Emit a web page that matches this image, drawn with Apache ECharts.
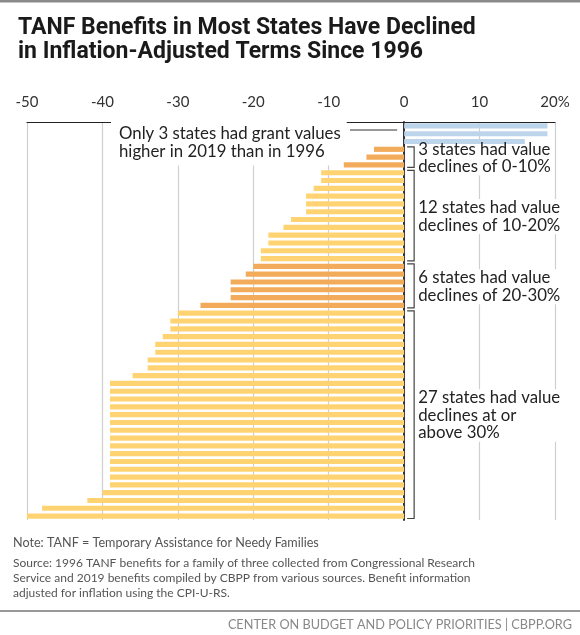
<!DOCTYPE html>
<html>
<head>
<meta charset="utf-8">
<script src="https://cdn.jsdelivr.net/npm/echarts@6/dist/echarts.min.js"></script>
<style>
html,body{margin:0;padding:0;background:#fff;}
#chart{width:580px;height:635px;}
</style>
</head>
<body>
<div id="chart"></div>
<script>
// Change in inflation-adjusted TANF benefit, 1996 to 2019 (%), one bar per state, sorted
const values = [19, 19, 16,
  -4, -5, -8,
  -11, -11, -12, -13, -13, -13, -15, -16, -18, -18, -19, -19,
  -20, -21, -23, -23, -23, -27,
  -30, -31, -31, -32, -33, -33, -34, -34, -36,
  -39, -39, -39, -39, -39, -39, -39, -39, -39, -39, -39, -39, -39, -39,
  -40, -42, -48, -51];
// group sizes in order of bars
const groupNames = ['increase', 'decl0to10', 'decl10to20', 'decl20to30', 'decl30plus'];
const groupCounts = [3, 3, 12, 6, 27];
const groupColors = ['#bdd5ea', '#f1ab5b', '#ffd372', '#f1ab5b', '#ffd372'];
const groupNotes = [
  null,
  '3 states had value\ndeclines of 0-10%',
  '12 states had value\ndeclines of 10-20%',
  '6 states had value\ndeclines of 20-30%',
  '27 states had value\ndeclines at or\nabove 30%'
];
const xTicks = [-50, -40, -30, -20, -10, 0, 10, 20];
const categories = values.map((v, i) => 'State ' + (i + 1));

const FONT = 'Lato, "Open Sans", sans-serif';
const TITLE_FONT = 'Roboto, "Open Sans", sans-serif';
const ANN_FONT = '16.8px ' + FONT;

// build per-bar colours from group arrays
const barColors = [];
groupCounts.forEach((n, g) => { for (let k = 0; k < n; k++) barColors.push(groupColors[g]); });

const chart = echarts.init(document.getElementById('chart'), null, {renderer: 'canvas'});

const option = {
  animation: false,
  backgroundColor: '#fff',
  title: {
    text: 'TANF Benefits in Most States Have Declined\nin Inflation-Adjusted Terms Since 1996',
    left: 13, top: 11,
    textStyle: {fontFamily: TITLE_FONT, fontSize: 23, fontWeight: 'bold', color: '#1a1a1a', lineHeight: 24}
  },
  grid: {left: 27, right: 25, top: 122, bottom: 115, containLabel: false},
  xAxis: {
    type: 'value', position: 'top', min: xTicks[0], max: xTicks[xTicks.length - 1], interval: 10,
    axisLine: {show: true, onZero: false, lineStyle: {color: '#222', width: 1.2}},
    axisTick: {show: false},
    axisLabel: {
      margin: 12, fontFamily: FONT, fontSize: 15, color: '#333',
      formatter: v => v === xTicks[xTicks.length - 1] ? v + '%' : String(v)
    },
    splitLine: {show: true, lineStyle: {color: '#cfcfcf', width: 1.2}}
  },
  yAxis: {
    type: 'category', data: categories, inverse: true,
    axisLine: {show: true, onZero: true, lineStyle: {color: '#222', width: 1.8}},
    axisTick: {show: false}, axisLabel: {show: false}, splitLine: {show: false}
  },
  series: [{
    type: 'bar', barWidth: '66%', z: 3,
    data: values.map((v, i) => ({value: v, itemStyle: {color: barColors[i]}}))
  }]
};
chart.setOption(option);

// annotations positioned through the axes
const yPix = i => chart.convertToPixel({yAxisIndex: 0}, i);
const band = yPix(1) - yPix(0);
const graphics = [];

// text with a white backing that sits under the bars, glyphs on top
function addLabel(txt, x, y, pad, lineHeight) {
  const base = {text: txt, x: x, y: y, verticalAlign: 'middle', font: ANN_FONT, lineHeight: lineHeight || 18};
  graphics.push({type: 'text', z: 1, silent: true,
    style: Object.assign({}, base, {fill: 'rgba(255,255,255,0)', backgroundColor: '#fff', padding: pad})});
  graphics.push({type: 'text', z: 12, silent: true,
    style: Object.assign({}, base, {fill: '#222', padding: pad})});
}

// top border
graphics.push({type: 'rect', shape: {x: 0, y: 0, width: 580, height: 2.5}, style: {fill: '#8a8a8a'}, z: 20});

// left note about increases
const x0 = chart.convertToPixel({xAxisIndex: 0}, 0);
addLabel('Only 3 states had grant values\nhigher in 2019 than in 1996', 111, 143, [3, 6, 6, 8], 18);
graphics.push({type: 'line', z: 11, shape: {x1: 350, y1: 130, x2: x0 - 7, y2: 130}, style: {stroke: '#333', lineWidth: 1.2}});

// brackets
let start = 0;
groupCounts.forEach((n, g) => {
  const first = start, last = start + n - 1;
  start += n;
  if (!groupNotes[g]) return;
  const top = yPix(first) - band / 2 + 1.5;
  const bot = yPix(last) + band / 2 - 1.5;
  const bx = x0 + 10;
  graphics.push({type: 'polyline', z: 11, shape: {points: [[x0 + 3, top], [bx, top], [bx, bot], [x0 + 3, bot]]},
    style: {stroke: '#444', lineWidth: 1.2, fill: null}});
  addLabel(groupNotes[g], bx + 2, (top + bot) / 2 + 0.8, [0, 2, 0, 2], 17.5);
});

// notes and footer
const noteFont = '12px ' + FONT;
graphics.push({type: 'text', style: {text: 'Note: TANF = Temporary Assistance for Needy Families', x: 13, y: 543, verticalAlign: 'middle', font: '12.6px ' + FONT, fill: '#555'}});
graphics.push({type: 'text', style: {text: 'Source: 1996 TANF benefits for a family of three collected from Congressional Research\nService and 2019 benefits compiled by CBPP from various sources. Benefit information\nadjusted for inflation using the CPI-U-RS.', x: 13, y: 555.8, verticalAlign: 'top', font: noteFont, lineHeight: 15, fill: '#555'}});
graphics.push({type: 'rect', shape: {x: 0, y: 610, width: 580, height: 2}, style: {fill: '#999'}});
graphics.push({type: 'text', style: {text: 'CENTER ON BUDGET AND POLICY PRIORITIES | CBPP.ORG', x: 572, y: 625, align: 'right', verticalAlign: 'middle', font: '12.7px ' + FONT, fill: '#888'}});

chart.setOption({graphic: {elements: graphics}});
</script>
</body>
</html>
